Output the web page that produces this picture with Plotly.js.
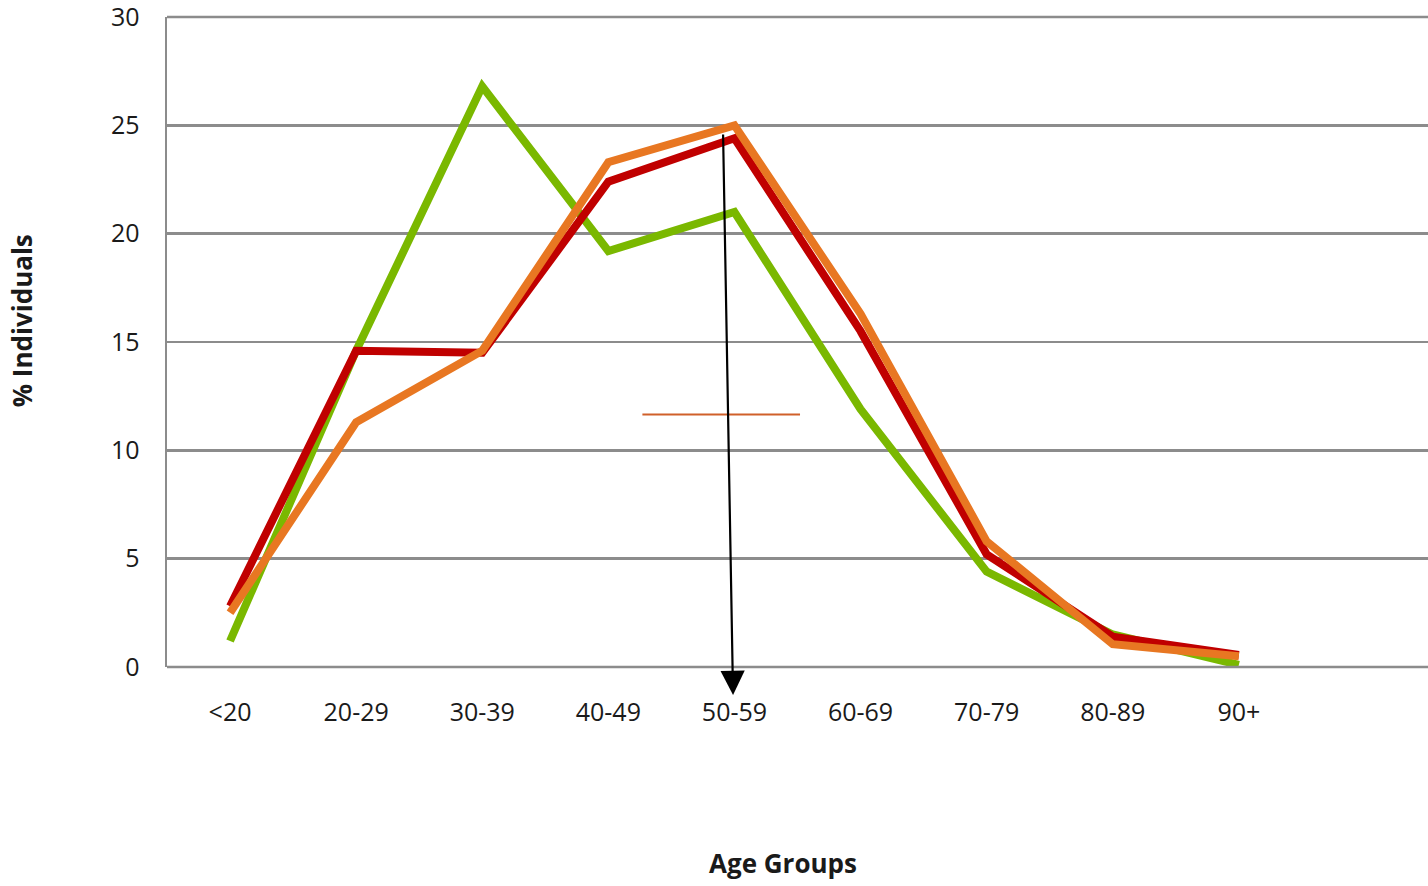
<!DOCTYPE html>
<html>
<head>
<meta charset="utf-8">
<script src="https://cdn.plot.ly/plotly-3.0.1.min.js"></script>
<style>html,body{margin:0;padding:0;background:#fff;}#chart{width:1428px;height:886px;}</style>
</head>
<body>
<div id="chart"></div>
<script>
const categories = ["<20", "20-29", "30-39", "40-49", "50-59", "60-69", "70-79", "80-89", "90+"];
const greenValues = [1.2, 14.6, 26.8, 19.2, 21.0, 11.9, 4.4, 1.5, 0.1];
const redValues = [2.8, 14.6, 14.5, 22.4, 24.4, 15.5, 5.2, 1.4, 0.55];
const orangeValues = [2.5, 11.3, 14.6, 23.3, 25.0, 16.3, 5.8, 1.05, 0.5];
const yTicks = [0, 5, 10, 15, 20, 25, 30];

const FONT = "Open Sans, Lato, sans-serif";
const idx = categories.map((c, i) => i);

function series(vals, color, name) {
  return {
    x: idx, y: vals, type: "scatter", mode: "lines", name: name,
    line: {color: color, width: 8}, cliponaxis: false
  };
}

const data = [
  series(greenValues, "#7ab800", "Series 1"),
  series(redValues, "#c00000", "Series 2"),
  series(orangeValues, "#e87722", "Series 3")
];

const layout = {
  width: 1428, height: 886,
  margin: {l: 167, r: 0, t: 17, b: 219},
  paper_bgcolor: "#ffffff", plot_bgcolor: "#ffffff",
  showlegend: false,
  font: {family: FONT, size: 25, color: "#1a1a1a"},
  xaxis: {
    tickmode: "array", tickvals: idx, ticktext: categories,
    range: [-0.5, 9.5], showgrid: false, zeroline: false,
    showline: false, ticks: "", ticklabelstandoff: 28, ticklabeloverflow: "allow",
    tickfont: {family: FONT, size: 25, color: "#1a1a1a"}
  },
  yaxis: {
    range: [0, 30], tickmode: "array", tickvals: yTicks,
    showgrid: true, gridcolor: "#8c8c8c", gridwidth: 2.5,
    zeroline: false, showline: true, linecolor: "#8c8c8c", linewidth: 2.5,
    ticks: "", ticklabelstandoff: 20, ticklabeloverflow: "allow",
    tickfont: {family: FONT, size: 25, color: "#1a1a1a"}
  },
  shapes: [
    {type: "line", xref: "x", yref: "y", x0: 3.27, x1: 4.52, y0: 11.65, y1: 11.65,
     line: {color: "#d0602a", width: 2}},
    {type: "line", xref: "paper", yref: "paper", x0: 0, x1: 1, y0: 0, y1: 0,
     line: {color: "#8c8c8c", width: 2.5}},
    {type: "line", xref: "paper", yref: "paper", x0: 0, x1: 1, y0: 1, y1: 1,
     line: {color: "#8c8c8c", width: 2.5}}
  ],
  annotations: [
    {xref: "paper", yref: "paper", x: 0.4489, y: -0.043, axref: "pixel", ayref: "pixel",
     ax: -10, ay: -562, showarrow: true, arrowhead: 2, arrowsize: 2.2, arrowwidth: 2.2,
     arrowcolor: "#000000", text: ""},
    {xref: "paper", yref: "paper", x: 0.4882, y: -0.301, xanchor: "center", yanchor: "middle",
     showarrow: false, text: "<b>Age Groups</b>",
     font: {family: FONT, size: 26, color: "#1a1a1a"}},
    {xref: "paper", yref: "paper", x: -0.1149, y: 0.532, xanchor: "center", yanchor: "middle",
     showarrow: false, textangle: -90, text: "<b>% Individuals</b>",
     font: {family: FONT, size: 26, color: "#1a1a1a"}}
  ]
};

Plotly.newPlot("chart", data, layout, {displayModeBar: false, staticPlot: true});
</script>
</body>
</html>
